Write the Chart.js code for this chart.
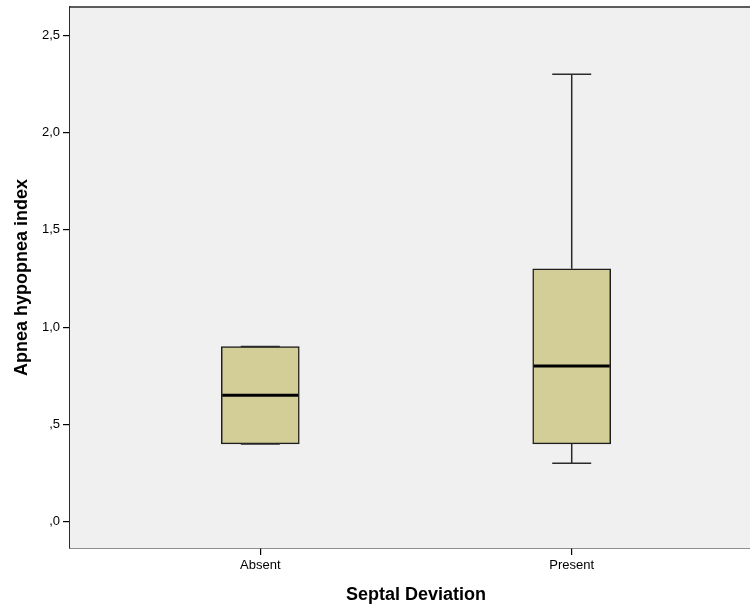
<!DOCTYPE html>
<html>
<head>
<meta charset="utf-8">
<script src="https://cdn.jsdelivr.net/npm/chart.js@4.4.1/dist/chart.umd.min.js"></script>
<style>
  html, body { margin: 0; padding: 0; background: #ffffff; overflow: hidden; }
  #wrap { width: 770px; height: 610px; }
</style>
</head>
<body>
<div id="wrap"><canvas id="c" width="770" height="610"></canvas></div>
<script>
// Apnea hypopnea index by septal deviation group (box summary per group)
const categories   = ['Absent', 'Present'];
const minValues    = [0.4, 0.3];
const q1Values     = [0.4, 0.4];
const medianValues = [0.65, 0.8];
const q3Values     = [0.9, 1.3];
const maxValues    = [0.9, 2.3];
const yTickValues  = [0, 0.5, 1, 1.5, 2, 2.5];

const BOX_WIDTH = 78;
const FONT = "'Liberation Sans', Arial, sans-serif";

function formatTick(v) {
  // comma decimal, no leading zero: ",5", "1,0"
  const s = v.toFixed(1).replace('.', ',');
  return s.startsWith('0') ? s.slice(1) : s;
}

// Plot background and outer frame
const frame = {
  id: 'frame',
  beforeDatasetsDraw(chart) {
    const a = chart.chartArea, ctx = chart.ctx;
    ctx.save();
    ctx.fillStyle = '#f0f0f0';
    ctx.fillRect(a.left, a.top, a.right - a.left, a.bottom - a.top);
    ctx.restore();
  },
  afterDraw(chart) {
    const a = chart.chartArea, ctx = chart.ctx;
    ctx.save();
    ctx.strokeStyle = '#2a2a2a';
    ctx.lineWidth = 1.5;
    ctx.beginPath();
    ctx.moveTo(a.left, a.top);
    ctx.lineTo(a.right, a.top);
    ctx.lineTo(a.right, a.bottom);
    ctx.stroke();
    ctx.restore();
  }
};

// Whiskers, caps and median lines
const boxParts = {
  id: 'boxParts',
  afterDatasetsDraw(chart) {
    const xs = chart.scales.x, ys = chart.scales.y, ctx = chart.ctx;
    ctx.save();
    categories.forEach((c, i) => {
      const cx = xs.getPixelForValue(i + 1);
      const yMin = ys.getPixelForValue(minValues[i]);
      const yQ1 = ys.getPixelForValue(q1Values[i]);
      const yMed = ys.getPixelForValue(medianValues[i]);
      const yQ3 = ys.getPixelForValue(q3Values[i]);
      const yMax = ys.getPixelForValue(maxValues[i]);
      const capHalf = BOX_WIDTH / 4;
      ctx.strokeStyle = '#2a2a2a';
      ctx.lineWidth = 1.5;
      ctx.beginPath();
      ctx.moveTo(cx, yQ3); ctx.lineTo(cx, yMax);
      ctx.moveTo(cx, yQ1); ctx.lineTo(cx, yMin);
      ctx.moveTo(cx - capHalf, yMax); ctx.lineTo(cx + capHalf, yMax);
      ctx.moveTo(cx - capHalf, yMin); ctx.lineTo(cx + capHalf, yMin);
      ctx.stroke();
      ctx.strokeStyle = '#000000';
      ctx.lineWidth = 3;
      ctx.beginPath();
      ctx.moveTo(cx - BOX_WIDTH / 2 + 1, yMed);
      ctx.lineTo(cx + BOX_WIDTH / 2 - 1, yMed);
      ctx.stroke();
    });
    ctx.restore();
  }
};

new Chart(document.getElementById('c'), {
  type: 'bar',
  data: {
    datasets: [{
      data: categories.map((c, i) => ({ x: i + 1, y: [q1Values[i], q3Values[i]] })),
      backgroundColor: '#d3ce98',
      borderColor: '#1e1e1e',
      borderWidth: 1.5,
      borderSkipped: false,
      barThickness: BOX_WIDTH,
      grouped: false
    }]
  },
  options: {
    responsive: false,
    animation: false,
    layout: { padding: { left: 0, right: 8, top: 7, bottom: 0 } },
    plugins: { legend: { display: false }, tooltip: { enabled: false } },
    scales: {
      x: {
        type: 'linear',
        offset: false,
        min: 0.389,
        max: 2.611,
        afterBuildTicks(scale) { scale.ticks = categories.map((c, i) => ({ value: i + 1 })); },
        afterFit(scale) { scale.height = 62; scale.paddingLeft = 0; scale.paddingRight = 0; },
        grid: { offset: false, drawOnChartArea: false, drawTicks: true, tickLength: 7, color: '#000', lineWidth: 1.2 },
        border: { display: true, color: '#1e1e1e', width: 1.5 },
        ticks: {
          autoSkip: false, maxRotation: 0, padding: 3, color: '#000',
          font: { family: FONT, size: 13 },
          callback: (v) => categories[Math.round(v) - 1] || ''
        },
        title: {
          display: true, text: 'Septal Deviation', color: '#000',
          font: { family: FONT, size: 18, weight: 'bold' },
          padding: { top: 0, bottom: 4 }
        }
      },
      y: {
        min: -0.135,
        max: 2.645,
        afterBuildTicks(scale) { scale.ticks = yTickValues.map(v => ({ value: v })); },
        afterFit(scale) { scale.width = 70; scale.paddingTop = 0; scale.paddingBottom = 0; },
        grid: { drawOnChartArea: false, drawTicks: true, tickLength: 7, color: '#000', lineWidth: 1.2 },
        border: { display: true, color: '#2a2a2a', width: 1.5 },
        ticks: {
          padding: 3, color: '#000',
          font: { family: FONT, size: 13 },
          callback: (v) => formatTick(v)
        },
        title: {
          display: true, text: 'Apnea hypopnea index', color: '#000',
          font: { family: FONT, size: 18, weight: 'bold' },
          padding: { top: 11, bottom: 0 }
        }
      }
    }
  },
  plugins: [frame, boxParts]
});
</script>
</body>
</html>
